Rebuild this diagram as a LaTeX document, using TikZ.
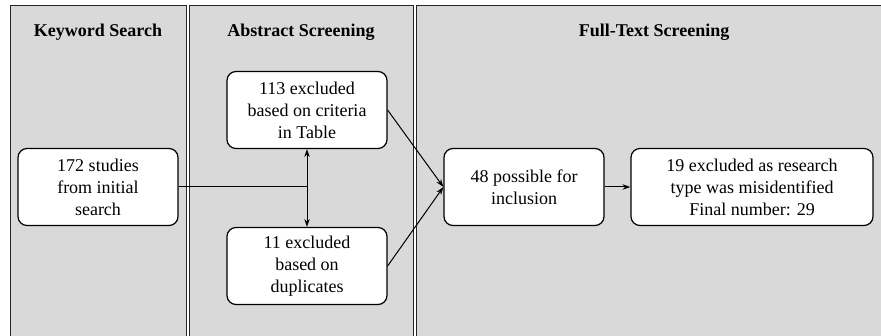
\documentclass[tikz,border=0pt]{standalone}
\usepackage{fontspec}
\setmainfont{Liberation Serif}
\usetikzlibrary{arrows.meta}
\begin{document}
\begin{tikzpicture}[x=1pt,y=-1pt,
  lane/.style={draw=black!85,line width=0.9pt,fill=black!15},
  lanetitle/.style={font=\fontsize{18}{21}\selectfont\bfseries,anchor=center},
  stepbox/.style={draw=black,line width=1.2pt,fill=white,rounded corners=9pt,
    align=center,font=\fontsize{18}{22}\selectfont,inner sep=0pt},
  conn/.style={line width=1pt,-{Stealth[length=8pt,width=5.5pt]}}]
\useasboundingbox (0,0) rectangle (881,336);
\clip (0,0) rectangle (881,336);
\fill[white] (0,0) rectangle (881,336);
% swim lanes
\draw[lane] (10,5) rectangle (186,345);
\draw[lane] (189,5) rectangle (413,345);
\draw[lane] (416,5) rectangle (895,345);
\node[lanetitle] (t1) at (98,32) {Keyword Search};
\node[lanetitle] (t2) at (301,32) {Abstract Screening};
\node[lanetitle] (t3) at (654,32) {Full-Text Screening};
% steps
\node[stepbox,minimum width=160pt,minimum height=77pt] (start) at (98,187)
  {172 studies\\from initial\\search};
\node[stepbox,minimum width=160pt,minimum height=77pt] (crit) at (307,110)
  {113 excluded\\based on criteria\\in Table};
\node[stepbox,minimum width=160pt,minimum height=77pt] (dup) at (307,266)
  {11 excluded\\based on\\duplicates};
\node[stepbox,minimum width=160pt,minimum height=77pt] (poss) at (524,187)
  {48 possible for\\inclusion};
\node[stepbox,minimum width=242pt,minimum height=77pt] (final) at (752,187)
  {19 excluded as research\\type was misidentified\\Final number: 29};
% connectors
\coordinate (split) at (307,187);
\draw[line width=1pt] (start.east) -- (split);
\draw[conn] (split) -- (crit.south);
\draw[conn] (split) -- (dup.north);
\draw[conn] (crit.east) -- (poss.west);
\draw[conn] (dup.east) -- (poss.west);
\draw[conn] (poss.east) -- (final.west);
\end{tikzpicture}
\end{document}
